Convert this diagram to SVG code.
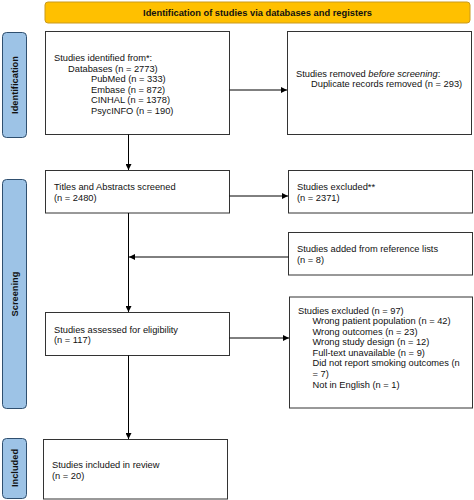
<svg xmlns="http://www.w3.org/2000/svg" width="474" height="500" viewBox="0 0 474 500">
<defs>
<style>
text{font-family:"Liberation Sans",Arial,sans-serif;font-size:9.3px;fill:#111}
.box{fill:#fff;stroke:#333;stroke-width:1}
.side{fill:#9DC3E6;stroke:#2F4F6F;stroke-width:1}
.lbl{font-weight:bold;font-size:9.3px;text-anchor:middle}
.con{stroke:#000;stroke-width:1;fill:none}
</style>
<marker id="ah" markerWidth="6" markerHeight="6" refX="6" refY="3" orient="auto" markerUnits="userSpaceOnUse">
<path d="M0,0 L6,3 L0,6 z" fill="#000"/>
</marker>
</defs>
<rect width="474" height="500" fill="#fff"/>

<g id="header">
<rect x="45" y="2" width="425" height="21" rx="3" fill="#FFC000" stroke="#C99A1E" stroke-width="1"/>
<text x="257.5" y="15.8" class="lbl">Identification of studies via databases and registers</text>
</g>

<g id="side-identification">
<rect class="side" x="2.5" y="32.5" width="24" height="105" rx="4"/>
<text class="lbl" transform="translate(18,85) rotate(-90)">Identification</text>
</g>
<g id="side-screening">
<rect class="side" x="2.5" y="179.5" width="24" height="229" rx="4"/>
<text class="lbl" transform="translate(18,294) rotate(-90)">Screening</text>
</g>
<g id="side-included">
<rect class="side" x="2.5" y="438.5" width="24" height="60" rx="4"/>
<text class="lbl" transform="translate(18,468) rotate(-90)">Included</text>
</g>

<g id="identified">
<rect class="box" x="45.5" y="31.5" width="184" height="103"/>
<text x="54" y="61">Studies identified from*:</text>
<text x="68" y="71.6">Databases (n = 2773)</text>
<text x="91" y="82.2">PubMed (n = 333)</text>
<text x="91" y="92.8">Embase (n = 872)</text>
<text x="91" y="103.4">CINHAL (n = 1378)</text>
<text x="91" y="114">PsycINFO (n = 190)</text>
</g>

<g id="removed">
<rect class="box" x="287.5" y="31.5" width="184" height="103"/>
<text x="296" y="76.5">Studies removed <tspan font-style="italic">before screening</tspan>:</text>
<text x="311" y="87.1">Duplicate records removed (n = 293)</text>
</g>

<g id="screened">
<rect class="box" x="45.5" y="170.5" width="184" height="42.5"/>
<text x="54" y="190">Titles and Abstracts screened</text>
<text x="54" y="200.6">(n = 2480)</text>
</g>

<g id="excluded1">
<rect class="box" x="288.5" y="170.5" width="184" height="42.5"/>
<text x="297" y="190">Studies excluded**</text>
<text x="297" y="200.6">(n = 2371)</text>
</g>

<g id="added">
<rect class="box" x="288.5" y="232.5" width="184" height="42.5"/>
<text x="297" y="252">Studies added from reference lists</text>
<text x="297" y="262.6">(n = 8)</text>
</g>

<g id="assessed">
<rect class="box" x="45.5" y="312.5" width="184" height="43"/>
<text x="54" y="332.5">Studies assessed for eligibility</text>
<text x="54" y="343.1">(n = 117)</text>
</g>

<g id="excluded2">
<rect class="box" x="289.5" y="297" width="183" height="111"/>
<text x="298" y="313.5">Studies excluded (n = 97)</text>
<text x="312.5" y="324.1">Wrong patient population (n = 42)</text>
<text x="312.5" y="334.6">Wrong outcomes (n = 23)</text>
<text x="312.5" y="345.2">Wrong study design (n = 12)</text>
<text x="312.5" y="355.8">Full-text unavailable (n = 9)</text>
<text x="312.5" y="366.3">Did not report smoking outcomes (n</text>
<text x="312.5" y="376.9">= 7)</text>
<text x="312.5" y="387.5">Not in English (n = 1)</text>
</g>

<g id="included">
<rect class="box" x="43.5" y="439.5" width="184" height="59.5"/>
<text x="52" y="467.5">Studies included in review</text>
<text x="52" y="478.6">(n = 20)</text>
</g>

<g id="connectors">
<line class="con" x1="229.5" y1="90" x2="287" y2="90" marker-end="url(#ah)"/>
<line class="con" x1="128.5" y1="134.5" x2="128.5" y2="170" marker-end="url(#ah)"/>
<line class="con" x1="229.5" y1="196" x2="288" y2="196" marker-end="url(#ah)"/>
<line class="con" x1="128.5" y1="213" x2="128.5" y2="312" marker-end="url(#ah)"/>
<line class="con" x1="288.5" y1="257" x2="129" y2="257" marker-end="url(#ah)"/>
<line class="con" x1="229.5" y1="338" x2="289" y2="338" marker-end="url(#ah)"/>
<line class="con" x1="128.5" y1="355.5" x2="128.5" y2="439" marker-end="url(#ah)"/>
</g>
</svg>
